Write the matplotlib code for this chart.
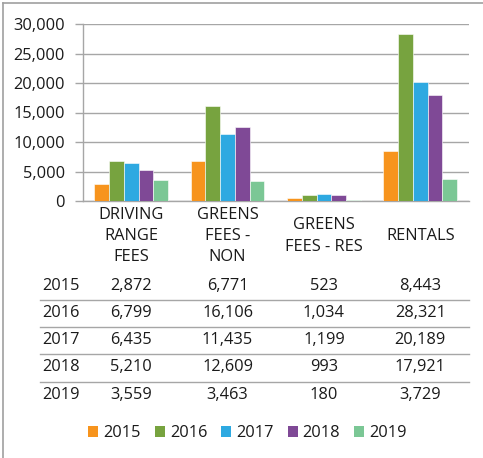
import matplotlib.pyplot as plt
import numpy as np
from matplotlib.patches import Patch
from matplotlib.ticker import FuncFormatter
from matplotlib.lines import Line2D
from matplotlib.transforms import blended_transform_factory

categories = ["DRIVING\nRANGE\nFEES", "GREENS\nFEES -\nNON", "GREENS\nFEES - RES", "RENTALS"]
years = ["2015", "2016", "2017", "2018", "2019"]
v2015 = [2872, 6771, 523, 8443]
v2016 = [6799, 16106, 1034, 28321]
v2017 = [6435, 11435, 1199, 20189]
v2018 = [5210, 12609, 993, 17921]
v2019 = [3559, 3463, 180, 3729]
series = [v2015, v2016, v2017, v2018, v2019]
colors = ["#F7941D", "#77A33F", "#2EA9E1", "#7F4996", "#7BC795"]

plt.rcParams["font.family"] = ["Open Sans", "DejaVu Sans"]
txt = "#1a1a1a"
grid = "#A6A6A6"
fs = 11.8

W, H = 483, 458
fig = plt.figure(figsize=(W / 100, H / 100), dpi=100)

def fx(px):
    return px / W

def fy(py):
    return 1 - py / H

ax = fig.add_axes([fx(83), fy(201), fx(468.5) - fx(83), fy(24) - fy(201)])

x = np.arange(len(categories))
width = 0.153
for i, (vals, c) in enumerate(zip(series, colors)):
    ax.bar(x + (i - 2) * width, vals, width, color=c, edgecolor="white", linewidth=0.4, zorder=3)

ax.set_xlim(-0.5, len(categories) - 0.5)
ax.set_ylim(0, 30000)
ax.set_yticks(range(0, 30001, 5000))
ax.yaxis.set_major_formatter(FuncFormatter(lambda v, p: f"{int(v):,}"))
ax.tick_params(axis="y", length=6, color=grid, width=1, pad=7, labelsize=fs, labelcolor=txt)
ax.set_xticks([])
ax.grid(axis="y", color=grid, linewidth=1, zorder=0)
for s in ["top", "right"]:
    ax.spines[s].set_visible(False)
for s in ["left", "bottom"]:
    ax.spines[s].set_color(grid)
    ax.spines[s].set_linewidth(1)

# data table under the chart
tr = blended_transform_factory(ax.transData, fig.transFigure)
for xi, lab in zip(x, categories):
    ax.text(xi, fy(236), lab, transform=tr, ha="center", va="center",
            fontsize=fs, color=txt, linespacing=1.45)

row_y = [286, 313, 340, 367, 395]
for yr, vals, ry in zip(years, series, row_y):
    fig.text(fx(42), fy(ry), yr, ha="left", va="center", fontsize=fs, color=txt)
    for xi, v in zip(x, vals):
        ax.text(xi, fy(ry), f"{v:,}", transform=tr, ha="center", va="center",
                fontsize=fs, color=txt)

for ly in [299.5, 326.5, 354, 381.5]:
    fig.add_artist(Line2D([fx(40), fx(468.5)], [fy(ly), fy(ly)], color=grid, linewidth=1))

# outer frame (top and left only)
fig.add_artist(Line2D([fx(2.5), fx(483)], [fy(3), fy(3)], color="#A0A0A0", linewidth=1.2))
fig.add_artist(Line2D([fx(2.5), fx(2.5)], [fy(3), fy(458)], color="#A0A0A0", linewidth=1.2))

handles = [Patch(facecolor=c, edgecolor="none") for c in colors]
fig.legend(handles, years, loc="center", bbox_to_anchor=(fx(247.5), fy(433)), ncol=5,
           frameon=False, fontsize=fs, labelcolor=txt, handlelength=0.62, handleheight=0.62,
           handletextpad=0.3, columnspacing=0.85, borderpad=0)

fig.savefig("out.png", dpi=100)
